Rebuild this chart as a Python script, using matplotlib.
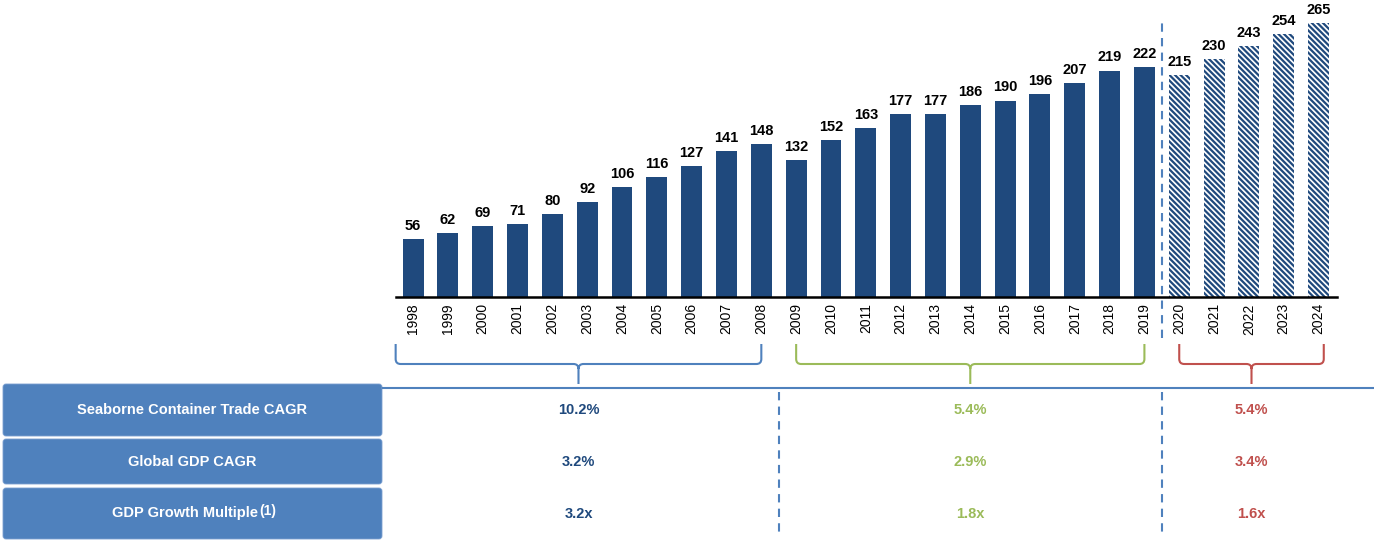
import matplotlib
matplotlib.use("Agg")
import matplotlib.pyplot as plt
from matplotlib.path import Path
from matplotlib.patches import PathPatch, FancyBboxPatch

plt.rcParams["font.family"] = ["Liberation Sans", "DejaVu Sans"]
plt.rcParams["hatch.linewidth"] = 1.6

# === data ===
years = [str(y) for y in range(1998, 2025)]
volumes = [56, 62, 69, 71, 80, 92, 106, 116, 127, 141, 148,
           132, 152, 163, 177, 177, 186, 190, 196, 207, 219, 222,
           215, 230, 243, 254, 265]
n_actual = 22  # 1998-2019 actual, 2020-2024 forecast

row_labels = ["Seaborne Container Trade CAGR", "Global GDP CAGR", "GDP Growth Multiple"]
trade_cagr = ["10.2%", "5.4%", "5.4%"]
gdp_cagr = ["3.2%", "2.9%", "3.4%"]
gdp_multiple = ["3.2x", "1.8x", "1.6x"]
# bracket spans, in bar index units
periods = [(-0.5, 10.0), (11.0, 21.0), (22.0, 26.15)]

dark = "#1F497D"
light_blue = "#4F81BD"
period_colors = ["#4F81BD", "#9BBB59", "#C0504D"]
value_colors = ["#1F497D", "#9BBB59", "#C0504D"]

W, H = 1374, 540
fig = plt.figure(figsize=(W / 100, H / 100), dpi=100)

# overlay in pixel coords for brackets / table
ov = fig.add_axes([0, 0, 1, 1])
ov.set_xlim(0, W)
ov.set_ylim(H, 0)
ov.axis("off")

ax = fig.add_axes([396 / W, (H - 297) / H, (1337 - 396) / W, 297 / H])
ax.patch.set_visible(False)

x = list(range(len(years)))
ax.bar(x[:n_actual], volumes[:n_actual], width=0.6, color=dark, linewidth=0)
ax.bar(x[n_actual:], volumes[n_actual:], width=0.6, color="white",
       edgecolor=dark, hatch="\\" * 6, linewidth=0)

for xi, v in zip(x, volumes):
    ax.annotate(str(v), (xi, v), xytext=(0, 6.5), textcoords="offset points",
                ha="center", va="baseline", fontsize=10.5, fontweight="bold")

ax.set_xlim(-0.49, 26.53)
ax.set_ylim(0, 287.2)
ax.set_xticks(x)
ax.set_xticklabels(years, rotation=90, fontsize=10)
ax.tick_params(axis="x", length=0, pad=4.5)
ax.set_yticks([])
for s in ["top", "left", "right"]:
    ax.spines[s].set_visible(False)
ax.spines["bottom"].set_linewidth(1.8)
ax.spines["bottom"].set_color("black")

# forecast divider
ax.axvline(n_actual - 0.5, ymin=-0.138, ymax=0.925, color=light_blue, lw=1.5,
           linestyle=(0, (4, 3)), clip_on=False)


def to_px(xd):
    return ax.transData.transform((xd, 0))[0]


# brackets
y0, ym, yb, r = 344, 364, 384, 5
cols = []
for (a, b), c in zip(periods, period_colors):
    x0, x1 = to_px(a), to_px(b)
    xt = (x0 + x1) / 2
    cols.append(xt)
    verts = [(x0, y0), (x0, ym - r), (x0, ym), (x0 + r, ym), (xt - r, ym),
             (xt, ym), (xt, ym + r), (xt, yb),
             (xt, ym + r), (xt, ym), (xt + r, ym), (x1 - r, ym),
             (x1, ym), (x1, ym - r), (x1, y0)]
    codes = [Path.MOVETO, Path.LINETO, Path.CURVE3, Path.CURVE3, Path.LINETO,
             Path.CURVE3, Path.CURVE3, Path.LINETO,
             Path.MOVETO, Path.CURVE3, Path.CURVE3, Path.LINETO,
             Path.CURVE3, Path.CURVE3, Path.LINETO]
    ov.add_patch(PathPatch(Path(verts, codes), fill=False, edgecolor=c, lw=1.5,
                           capstyle="butt", joinstyle="round"))

# table
ov.plot([383, W], [388, 388], color=light_blue, lw=1.5)
for sep in [10.5, n_actual - 0.5]:
    xs = to_px(sep)
    ov.plot([xs, xs], [392, 532], color=light_blue, lw=1.5, linestyle=(0, (4, 3)))

row_boxes = [(384, 436), (439, 484), (488, 539)]
table_rows = [trade_cagr, gdp_cagr, gdp_multiple]
for i, ((top, bot), label, vals) in enumerate(zip(row_boxes, row_labels, table_rows)):
    ov.add_patch(FancyBboxPatch((3, top), 379, bot - top,
                                boxstyle="round,pad=0,rounding_size=3",
                                facecolor=light_blue, edgecolor="#7A9FD0", lw=0.6))
    yc = (top + bot) / 2
    if i == 2:
        t = ov.text(185.5, yc, label, ha="center", va="center", color="white",
                    fontsize=10.5, fontweight="bold")
        ov.annotate("(1)", xy=(1, 0.5), xycoords=t, xytext=(0.5, 1.5),
                    textcoords="offset points", ha="left", va="center",
                    color="white", fontsize=10, fontweight="bold")
    else:
        ov.text(192, yc, label, ha="center", va="center", color="white",
                fontsize=10.5, fontweight="bold")
    for xc, v, c in zip(cols, vals, value_colors):
        ov.text(xc, yc, v, ha="center", va="center", color=c,
                fontsize=10.5, fontweight="bold")

fig.savefig("out.png", dpi=100)
